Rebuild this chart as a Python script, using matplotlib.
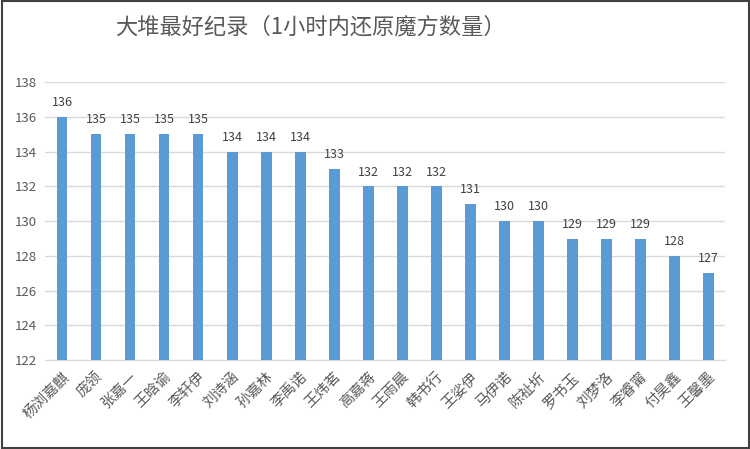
import matplotlib.pyplot as plt
from matplotlib.patches import Rectangle

plt.rcParams['font.family'] = ['Noto Sans CJK SC', 'DejaVu Sans']

names = ["杨浏嘉麒", "庞领", "张嘉一", "王晗谕", "李轩伊", "刘诗涵", "孙嘉林", "李禹诺",
         "王炜茗", "高嘉蒋", "王雨晨", "韩书行", "王娑伊", "马伊诺", "陈祉圻", "罗书玉",
         "刘梦洛", "李睿甯", "付昊鑫", "王馨墨"]
counts = [136, 135, 135, 135, 135, 134, 134, 134, 133, 132, 132, 132, 131, 130, 130,
          129, 129, 129, 128, 127]
y_ticks = list(range(122, 139, 2))

fig = plt.figure(figsize=(7.5, 4.49), dpi=100)
ax = fig.add_axes([0.06, 0.198, 0.907, 0.619])

x = range(len(names))
bars = ax.bar(x, counts, width=0.32, color="#5B9BD5", zorder=3)
for xi, v in zip(x, counts):
    ax.text(xi, v + 0.45, str(v), ha="center", va="bottom", fontsize=9, color="#404040")

ax.set_xlim(-0.5, len(names) - 0.5)
ax.set_ylim(122, 138)
ax.set_yticks(y_ticks)
ax.set_xticks(list(x))
ax.set_xticklabels(names, rotation=45, ha="right", rotation_mode="anchor",
                   fontsize=10.5, color="#595959")
ax.tick_params(axis="y", labelsize=9.5, colors="#595959", length=0, pad=6)
ax.tick_params(axis="x", length=0, pad=7)
ax.grid(True, axis="y", color="#D9D9D9", linewidth=1, zorder=0)
for s in ["top", "right", "left"]:
    ax.spines[s].set_visible(False)
ax.spines["bottom"].set_color("#D9D9D9")

fig.text(0.153, 0.94, "大堆最好纪录（1小时内还原魔方数量）", fontsize=16,
         color="#595959", va="center", ha="left")

fig.patches.append(Rectangle((0.002, 0.003), 0.996, 0.994, transform=fig.transFigure,
                             fill=False, edgecolor="#404040", linewidth=1.5))

plt.savefig("out.png")
